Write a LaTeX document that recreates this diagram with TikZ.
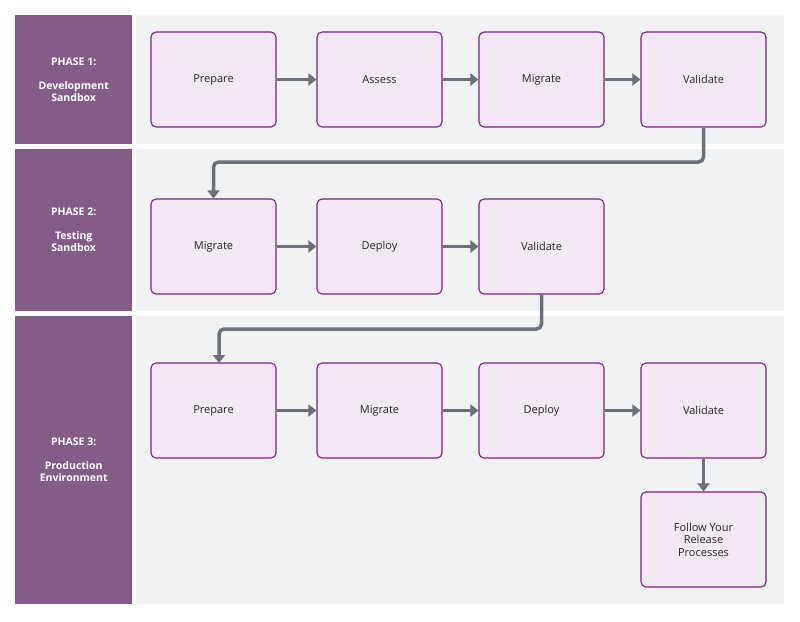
\documentclass[tikz,border=0pt]{standalone}
\usepackage{fontspec}
\setmainfont{Open Sans}
\usetikzlibrary{arrows.meta}
\definecolor{phasec}{HTML}{845C88}
\definecolor{bgc}{HTML}{F1F2F4}
\definecolor{boxf}{HTML}{F3E7F5}
\definecolor{boxd}{HTML}{7E1F87}
\definecolor{arrc}{HTML}{6B7079}
\tikzset{
 phase/.style={fill=phasec,text=white,font=\bfseries\fontsize{10.5}{12}\selectfont,align=center,anchor=north west,inner sep=0},
 lane/.style={fill=bgc,anchor=north west,inner sep=0},
 stepbox/.style={draw=boxd,fill=boxf,line width=1.1pt,rounded corners=5pt,minimum width=125pt,minimum height=95pt,align=center,font=\fontsize{11}{12.5}\selectfont,text=black!85},
 conn/.style={draw=arrc,line width=3.5pt,-{Triangle[length=8pt,width=12pt]},rounded corners=5pt}
}
\begin{document}
\begin{tikzpicture}[x=1pt,y=-1pt]
\useasboundingbox (0,0) rectangle (800,621);
\fill[bgc] (136,15) rectangle (784,144);
\fill[bgc] (136,149) rectangle (784,311);
\fill[bgc] (136,316) rectangle (784,604);
\node[phase,minimum width=117pt,minimum height=129pt] (p1) at (15,15) {PHASE 1:\\[12pt]Development\\Sandbox};
\node[phase,minimum width=117pt,minimum height=162pt] (p2) at (15,149) {PHASE 2:\\[12pt]Testing\\Sandbox};
\node[phase,minimum width=117pt,minimum height=288pt] (p3) at (15,316) {PHASE 3:\\[12pt]Production\\Environment};
\node[stepbox] (a1) at (213.5,79.5) {Prepare};
\node[stepbox] (a2) at (379.5,79.5) {Assess};
\node[stepbox] (a3) at (541.5,79.5) {Migrate};
\node[stepbox] (a4) at (703.5,79.5) {Validate};
\node[stepbox] (b1) at (213.5,246.5) {Migrate};
\node[stepbox] (b2) at (379.5,246.5) {Deploy};
\node[stepbox] (b3) at (541.5,246.5) {Validate};
\node[stepbox] (c1) at (213.5,410.5) {Prepare};
\node[stepbox] (c2) at (379.5,410.5) {Migrate};
\node[stepbox] (c3) at (541.5,410.5) {Deploy};
\node[stepbox] (c4) at (703.5,410.5) {Validate};
\node[stepbox] (d1) at (703.5,539.5) {Follow Your\\Release\\Processes};
\foreach \s/\t in {a1/a2,a2/a3,a3/a4,b1/b2,b2/b3,c1/c2,c2/c3,c3/c4}
  \draw[conn] (\s.east) -- (\t.west);
\draw[conn] (a4.south) |- (213.5,162) -- (b1.north);
\draw[conn] (b3.south) |- (219,329) -- (219,363);
\draw[conn] (c4.south) -- (d1.north);
\end{tikzpicture}
\end{document}
